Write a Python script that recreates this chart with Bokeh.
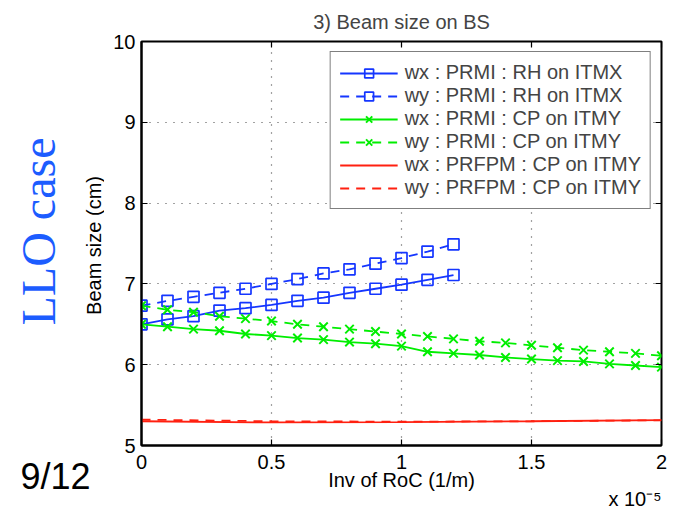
import math
from bokeh.plotting import figure
from bokeh.layouts import row
from bokeh.models import (Range1d, FixedTicker, LinearAxis, Legend, LegendItem, Title)
from bokeh.core.properties import value
from bokeh.embed import file_html
from bokeh.resources import INLINE

# ---------------- data (x in units of 1e-5 1/m) ----------------
x_rh = [0.0, 0.1, 0.2, 0.3, 0.4, 0.5, 0.6, 0.7, 0.8, 0.9, 1.0, 1.1, 1.2]
wx_prmi_rh = [6.50, 6.56, 6.60, 6.67, 6.70, 6.74, 6.79, 6.83, 6.89, 6.94, 6.99, 7.05, 7.11]
wy_prmi_rh = [6.73, 6.79, 6.84, 6.89, 6.94, 7.00, 7.06, 7.13, 7.18, 7.25, 7.32, 7.40, 7.49]

x_cp = [0.0, 0.1, 0.2, 0.3, 0.4, 0.5, 0.6, 0.7, 0.8, 0.9, 1.0,
        1.1, 1.2, 1.3, 1.4, 1.5, 1.6, 1.7, 1.8, 1.9, 2.0]
wx_prmi_cp = [6.50, 6.47, 6.44, 6.42, 6.38, 6.36, 6.33, 6.31, 6.28, 6.26, 6.23,
              6.16, 6.14, 6.12, 6.09, 6.07, 6.05, 6.04, 6.01, 5.99, 5.97]
wy_prmi_cp = [6.73, 6.68, 6.65, 6.60, 6.57, 6.54, 6.50, 6.47, 6.44, 6.41, 6.38,
              6.35, 6.32, 6.29, 6.27, 6.24, 6.21, 6.18, 6.16, 6.14, 6.11]

x_prfpm = [0.0, 0.5, 1.0, 1.5, 2.0]
wx_prfpm_cp = [5.300, 5.285, 5.290, 5.300, 5.315]
wy_prfpm_cp = [5.320, 5.300, 5.295, 5.300, 5.312]

x_ticks = [0, 0.5, 1, 1.5, 2]
x_tick_labels = ["0", "0.5", "1", "1.5", "2"]
y_ticks = [5, 6, 7, 8, 9, 10]

labels = ["wx : PRMI : RH on ITMX", "wy : PRMI : RH on ITMX",
          "wx : PRMI : CP on ITMY", "wy : PRMI : CP on ITMY",
          "wx : PRFPM : CP on ITMY", "wy : PRFPM : CP on ITMY"]

BLUE = "#1536ff"
GREEN = "#00ee00"
RED = "#ff2010"
FONT = "Liberation Sans"

H = 509
TOP, BOTTOM = 41, 64   # shared borders so all frames span the same rows
SIDE_W = 104

# ---------------- slide texts + y-axis title on the left ----------------
side = figure(width=SIDE_W, height=H, output_backend="svg", toolbar_location=None,
              x_range=Range1d(0, SIDE_W), y_range=Range1d(H - BOTTOM, TOP),
              x_axis_type=None, y_axis_type=None,
              min_border_left=0, min_border_right=0,
              min_border_top=TOP, min_border_bottom=BOTTOM)
side.outline_line_color = None
side.grid.visible = False
side.background_fill_color = "white"
side.border_fill_color = "white"
side.text(x=[38], y=[231], text=["LLO case"], angle=math.pi / 2,
          text_align="center", text_baseline="middle",
          text_font=value("Liberation Serif"), text_font_size="48px", text_color="#1c5cff")
side.text(x=[93], y=[245], text=["Beam size (cm)"], angle=math.pi / 2,
          text_align="center", text_baseline="middle",
          text_font=value(FONT), text_font_size="20px", text_color="black")
side.add_layout(Title(text="9/12", align="left", offset=20, vertical_align="top",
                      standoff=20, text_font=FONT, text_font_size="36px",
                      text_font_style="normal", text_color="black"), "below")

# ---------------- main plot ----------------
p = figure(width=682 - SIDE_W, height=H, output_backend="svg", toolbar_location=None,
           x_range=Range1d(0, 2), y_range=Range1d(5, 10),
           min_border_left=141 - SIDE_W, min_border_right=21,
           min_border_top=TOP, min_border_bottom=BOTTOM)
p.background_fill_color = "white"
p.border_fill_color = "white"
p.outline_line_color = "black"
p.outline_line_width = 2

p.title.text = "3) Beam size on BS"
p.title.align = "center"
p.title.text_font = FONT
p.title.text_font_size = "20px"
p.title.text_font_style = "normal"
p.title.vertical_align = "top"
p.title.standoff = 14

for ax in (p.xaxis[0], p.yaxis[0]):
    ax.axis_line_width = 2
    ax.axis_line_color = "black"
    ax.major_tick_in = 6
    ax.major_tick_out = 0
    ax.major_tick_line_width = 1.2
    ax.minor_tick_line_color = None
    ax.major_label_text_font = FONT
    ax.major_label_text_font_size = "20px"
    ax.major_label_text_color = "black"
    ax.axis_label_text_font = FONT
    ax.axis_label_text_font_size = "20px"
    ax.axis_label_text_font_style = "normal"
    ax.axis_label_text_color = "black"

p.xaxis.ticker = FixedTicker(ticks=x_ticks)
p.xaxis.major_label_overrides = {t: l for t, l in zip(x_ticks, x_tick_labels)}
p.xaxis.major_label_standoff = 9
p.xaxis.axis_label = "Inv of RoC (1/m)"
p.xaxis.axis_label_standoff = -3

p.yaxis.ticker = FixedTicker(ticks=y_ticks)
p.yaxis.major_label_standoff = 6

# top / right axes: inward ticks only, no labels
for loc, tk in (("above", x_ticks), ("right", y_ticks)):
    a = LinearAxis(ticker=FixedTicker(ticks=tk))
    a.axis_line_color = None
    a.major_tick_in = 6
    a.major_tick_out = 0
    a.major_tick_line_width = 1.2
    a.minor_tick_line_color = None
    a.major_label_text_color = None
    a.major_label_text_font_size = "0px"
    a.major_label_standoff = 0
    p.add_layout(a, loc)

for g, tk in ((p.xgrid[0], x_ticks), (p.ygrid[0], y_ticks)):
    g.ticker = FixedTicker(ticks=tk)
    g.grid_line_color = "#444444"
    g.grid_line_dash = "1 7"
    g.grid_line_width = 1.2

# exponent note under the x axis
p.add_layout(Title(text="x 10\u207b\u2075", align="right", offset=0, vertical_align="top",
                   standoff=-11, text_font=FONT, text_font_size="20px",
                   text_font_style="normal", text_color="black"), "below")

# ---------------- series ----------------
l1 = p.line(x_rh, wx_prmi_rh, line_color=BLUE, line_width=1.8)
s1 = p.scatter(x_rh, wx_prmi_rh, marker="square", size=11, line_color=BLUE,
               fill_color=None, line_width=1.7)
l2 = p.line(x_rh, wy_prmi_rh, line_color=BLUE, line_width=1.8, line_dash="9 7")
s2 = p.scatter(x_rh, wy_prmi_rh, marker="square", size=11, line_color=BLUE,
               fill_color=None, line_width=1.7)
l3 = p.line(x_cp, wx_prmi_cp, line_color=GREEN, line_width=1.8)
s3 = p.scatter(x_cp, wx_prmi_cp, marker="x", size=12, line_color=GREEN, line_width=2)
l4 = p.line(x_cp, wy_prmi_cp, line_color=GREEN, line_width=1.8, line_dash="9 7")
s4 = p.scatter(x_cp, wy_prmi_cp, marker="x", size=12, line_color=GREEN, line_width=2)
l5 = p.line(x_prfpm, wx_prfpm_cp, line_color=RED, line_width=1.8)
l6 = p.line(x_prfpm, wy_prfpm_cp, line_color=RED, line_width=1.8, line_dash="9 7")

rends = [[l1, s1], [l2, s2], [l3, s3], [l4, s4], [l5], [l6]]
items = [LegendItem(label=lab, renderers=r) for lab, r in zip(labels, rends)]

legend = Legend(items=items, location="top_right", margin=10, padding=9,
                spacing=0, glyph_width=58, glyph_height=22, label_height=22,
                label_standoff=7, label_text_font=FONT, label_text_font_size="20px",
                border_line_color="black", border_line_width=1.5,
                background_fill_color="white", background_fill_alpha=1.0)
p.add_layout(legend, "center")

layout = row(side, p)
open("out.html", "w").write(file_html(layout, INLINE))
